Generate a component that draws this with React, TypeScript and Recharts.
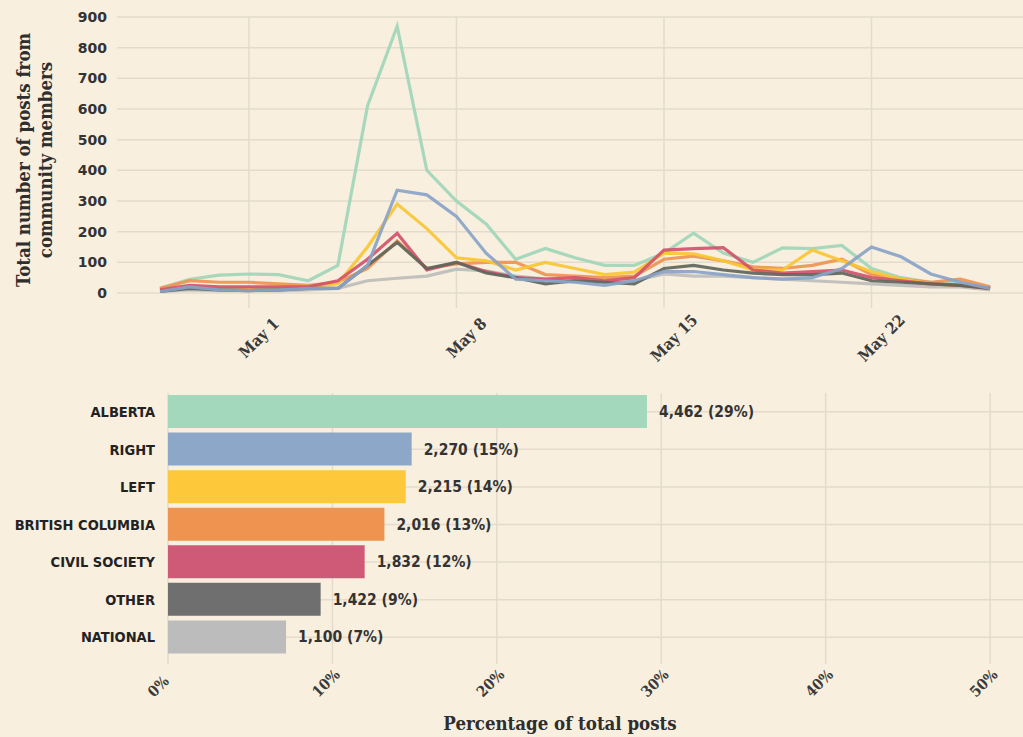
import {
  LineChart,
  Line,
  BarChart,
  Bar,
  Cell,
  LabelList,
  XAxis,
  YAxis,
  CartesianGrid,
} from 'recharts';

const BG = '#f8efdf';
const GRID = '#e3dccd';
const INK = '#2e2e2e';
const SERIF = "'DejaVu Serif Condensed', 'DejaVu Serif', serif";
const SANS = "'DejaVu Sans', sans-serif";
const SANS_C = "'DejaVu Sans Condensed', 'DejaVu Sans', sans-serif";

// day index: 1 = May 1 (Apr 28 .. May 26)
const days = [-2, -1, 0, 1, 2, 3, 4, 5, 6, 7, 8, 9, 10, 11, 12, 13, 14, 15, 16, 17, 18, 19, 20, 21, 22, 23, 24, 25, 26];
const dateTicks = [1, 8, 15, 22];

const alberta = [15, 45, 58, 62, 60, 40, 90, 610, 870, 400, 300, 225, 110, 145, 115, 90, 90, 130, 195, 130, 100, 147, 145, 155, 80, 50, 35, 30, 15];
const right = [5, 20, 10, 8, 10, 15, 15, 90, 335, 320, 250, 130, 45, 40, 35, 25, 40, 70, 70, 60, 50, 45, 50, 80, 150, 118, 62, 35, 15];
const left = [10, 20, 15, 15, 15, 20, 30, 150, 290, 210, 115, 105, 75, 100, 80, 60, 68, 130, 128, 105, 75, 75, 140, 105, 70, 45, 30, 25, 15];
const britishColumbia = [15, 40, 35, 35, 30, 25, 35, 80, 170, 80, 95, 100, 100, 60, 55, 50, 55, 110, 120, 105, 85, 80, 90, 110, 60, 45, 35, 45, 20];
const civilSociety = [10, 25, 20, 20, 20, 20, 40, 110, 195, 75, 100, 70, 50, 45, 50, 40, 50, 140, 145, 148, 75, 65, 70, 75, 50, 40, 30, 25, 15];
const other = [5, 15, 10, 8, 10, 15, 15, 90, 165, 80, 100, 65, 50, 30, 40, 35, 30, 80, 90, 75, 65, 60, 60, 65, 40, 35, 30, 25, 15];
const national = [5, 10, 8, 8, 8, 10, 15, 40, 48, 55, 78, 72, 55, 45, 40, 35, 40, 62, 55, 55, 50, 45, 40, 35, 30, 25, 20, 20, 10];

const lineData = days.map((day, i) => ({
  day,
  alberta: alberta[i],
  right: right[i],
  left: left[i],
  bc: britishColumbia[i],
  civil: civilSociety[i],
  other: other[i],
  national: national[i],
}));

// draw order: bottom first
const lineSeries = [
  { key: 'national', color: '#bdbdbb' },
  { key: 'alberta', color: '#9fd6b9' },
  { key: 'bc', color: '#ef9452' },
  { key: 'left', color: '#f9c733' },
  { key: 'civil', color: '#d3536b' },
  { key: 'other', color: '#5f665d' },
  { key: 'right', color: '#8aa3c8' },
];

const categories = ['ALBERTA', 'RIGHT', 'LEFT', 'BRITISH COLUMBIA', 'CIVIL SOCIETY', 'OTHER', 'NATIONAL'];
const counts = [4462, 2270, 2215, 2016, 1832, 1422, 1100];
const barColors = ['#a4d8bd', '#8da7c8', '#fdc93a', '#ee9450', '#cf5a78', '#6f6f6f', '#bcbcbc'];
const pctTicks = [0, 10, 20, 30, 40, 50];

const total = counts.reduce((a, b) => a + b, 0);
const barData = categories.map((name, i) => {
  const pct = (counts[i] / total) * 100;
  return {
    name,
    pct,
    label: `${counts[i].toLocaleString('en-US')} (${Math.round(pct)}%)`,
  };
});

const monthDay = (d: number) => (d <= 0 ? `Apr ${30 + d}` : `May ${d}`);

function DateTick({ x, y, payload }: any) {
  return (
    <text
      transform={`translate(${x + 10},${y + 28}) rotate(-45)`}
      textAnchor="middle"
      dominantBaseline="central"
      fontFamily={SERIF}
      fontWeight="bold"
      fontSize={16}
      fill="#3a3a3a"
    >
      {monthDay(payload.value)}
    </text>
  );
}

function PctTick({ x, y, payload }: any) {
  return (
    <text
      transform={`translate(${x - 14},${y + 32}) rotate(-45)`}
      textAnchor="start"
      fontFamily={SERIF}
      fontWeight="bold"
      fontSize={15}
      fill="#3a3a3a"
    >
      {`${payload.value}%`}
    </text>
  );
}

export default function App() {
  return (
    <div
      style={{
        position: 'fixed',
        left: 0,
        top: 0,
        width: 1023,
        height: 737,
        background: BG,
        overflow: 'hidden',
      }}
    >
      <div style={{ position: 'absolute', left: 0, top: 0 }}>
        <LineChart width={1023} height={373} data={lineData} margin={{ top: 17, right: 0, bottom: 0, left: 57 }}>
          <CartesianGrid stroke={GRID} strokeWidth={1.5} syncWithTicks />
          <XAxis
            dataKey="day"
            type="number"
            domain={[-3.45, 27.11]}
            ticks={dateTicks}
            height={80}
            axisLine={false}
            tickLine={{ stroke: GRID, strokeWidth: 1.5 }}
            tickSize={15}
            tick={<DateTick />}
            interval={0}
          />
          <YAxis
            type="number"
            domain={[0, 900]}
            ticks={[0, 100, 200, 300, 400, 500, 600, 700, 800, 900]}
            width={60}
            axisLine={false}
            tickLine={false}
            tickMargin={4}
            tick={{ fontFamily: SANS, fontWeight: 'bold', fontSize: 14, fill: '#333' }}
          />
          {lineSeries.map((s) => (
            <Line
              key={s.key}
              type="linear"
              dataKey={s.key}
              stroke={s.color}
              strokeWidth={3.2}
              strokeOpacity={0.92}
              dot={false}
              activeDot={false}
              isAnimationActive={false}
            />
          ))}
        </LineChart>
      </div>

      <div style={{ position: 'absolute', left: 0, top: 380 }}>
        <BarChart
          width={1023}
          height={357}
          data={barData}
          layout="vertical"
          margin={{ top: 13, right: 0, bottom: 0, left: 8 }}
        >
          <CartesianGrid stroke={GRID} strokeWidth={1.5} syncWithTicks />
          <XAxis
            type="number"
            domain={[0, 52]}
            ticks={pctTicks}
            height={81}
            axisLine={false}
            tickLine={{ stroke: GRID, strokeWidth: 1.5 }}
            tickSize={8}
            tick={<PctTick />}
            interval={0}
          />
          <YAxis
            type="category"
            dataKey="name"
            width={160}
            axisLine={false}
            tickLine={false}
            tickMargin={7}
            interval={0}
            tick={{ fontFamily: SANS_C, fontWeight: 'bold', fontSize: 14.5, fill: '#222' }}
          />
          <Bar dataKey="pct" barSize={33} isAnimationActive={false}>
            {barData.map((d, i) => (
              <Cell key={d.name} fill={barColors[i]} />
            ))}
            <LabelList
              dataKey="label"
              position="right"
              offset={12}
              style={{ fontFamily: SANS_C, fontWeight: 'bold', fontSize: 15.5, fill: '#333' }}
            />
          </Bar>
        </BarChart>
      </div>

      <svg
        width={1023}
        height={737}
        style={{ position: 'absolute', left: 0, top: 0, pointerEvents: 'none' }}
      >
        <g fontFamily={SERIF} fontWeight="bold" fontSize={18.5} fill={INK} textAnchor="middle">
          <text transform="translate(30,160) rotate(-90)">Total number of posts from</text>
          <text transform="translate(52,160) rotate(-90)">community members</text>
          <text x={560} y={730}>Percentage of total posts</text>
        </g>
      </svg>
    </div>
  );
}
